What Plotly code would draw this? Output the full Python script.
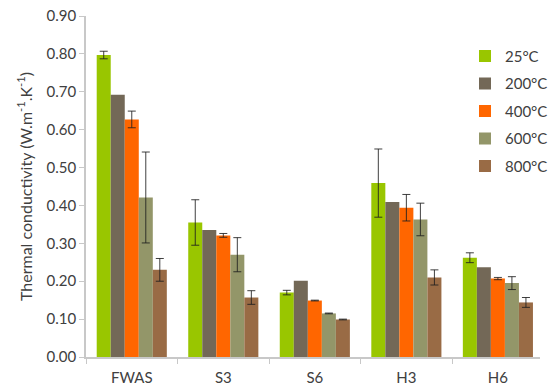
import plotly.graph_objects as go

categories = ["FWAS", "S3", "S6", "H3", "H6"]
series_names = ["25°C", "200°C", "400°C", "600°C", "800°C"]
colors = ["#99C600", "#736857", "#FF6600", "#939669", "#996B45"]

v25 = [0.797, 0.355, 0.170, 0.459, 0.262]
v200 = [0.692, 0.335, 0.201, 0.409, 0.237]
v400 = [0.627, 0.321, 0.149, 0.394, 0.207]
v600 = [0.421, 0.270, 0.115, 0.363, 0.195]
v800 = [0.230, 0.157, 0.099, 0.210, 0.144]

e25 = [0.010, 0.060, 0.006, 0.090, 0.013]
e200 = None
e400 = [0.022, 0.005, 0.001, 0.035, 0.003]
e600 = [0.120, 0.045, 0.001, 0.043, 0.017]
e800 = [0.030, 0.018, 0.001, 0.020, 0.013]

values = [v25, v200, v400, v600, v800]
errors = [e25, e200, e400, e600, e800]

font_family = "Lato, 'Open Sans', sans-serif"
text_color = "#404040"

fig = go.Figure()
for i, (name, vals, err, col) in enumerate(zip(series_names, values, errors, colors)):
    kw = {}
    if err is not None:
        kw["error_y"] = dict(type="data", array=err, visible=True,
                             color="rgba(30,30,30,0.85)", thickness=1, width=4)
    fig.add_trace(go.Bar(
        x=categories, y=vals, name=name,
        marker=dict(color=col, line=dict(width=0)),
        legendgroup=f"g{i}",
        **kw,
    ))

fig.update_layout(
    width=553, height=389,
    margin=dict(l=86, r=0, t=16, b=32),
    paper_bgcolor="white", plot_bgcolor="white",
    barmode="group", bargap=0.234, bargroupgap=0,
    font=dict(family=font_family, size=15, color=text_color),
    showlegend=True,
    legend=dict(x=0.835, y=0.93, xanchor="left", yanchor="top",
                font=dict(size=15, color=text_color),
                itemwidth=30, tracegroupgap=5, traceorder="grouped",
                bgcolor="rgba(0,0,0,0)"),
    xaxis=dict(
        type="category", range=[-0.5, 4.46],
        showline=True, linecolor="#C8C8C8", linewidth=1.5,
        ticks="outside", tickson="boundaries", ticklen=5, tickcolor="#C8C8C8",
        ticklabelstandoff=6,
        showgrid=False, tickfont=dict(size=15, color=text_color),
    ),
    yaxis=dict(
        range=[0, 0.9], dtick=0.1, tickformat=".2f",
        showline=True, linecolor="#C8C8C8", linewidth=1.5,
        ticks="outside", ticklen=5, tickcolor="#C8C8C8",
        showgrid=False, zeroline=False,
        tickfont=dict(size=15, color=text_color),
        title=dict(text="Thermal conductivity (W.m<sup>-1</sup>.K<sup>-1</sup>)",
                   font=dict(size=16, color=text_color), standoff=10),
    ),
)

fig.write_html("out.html")
